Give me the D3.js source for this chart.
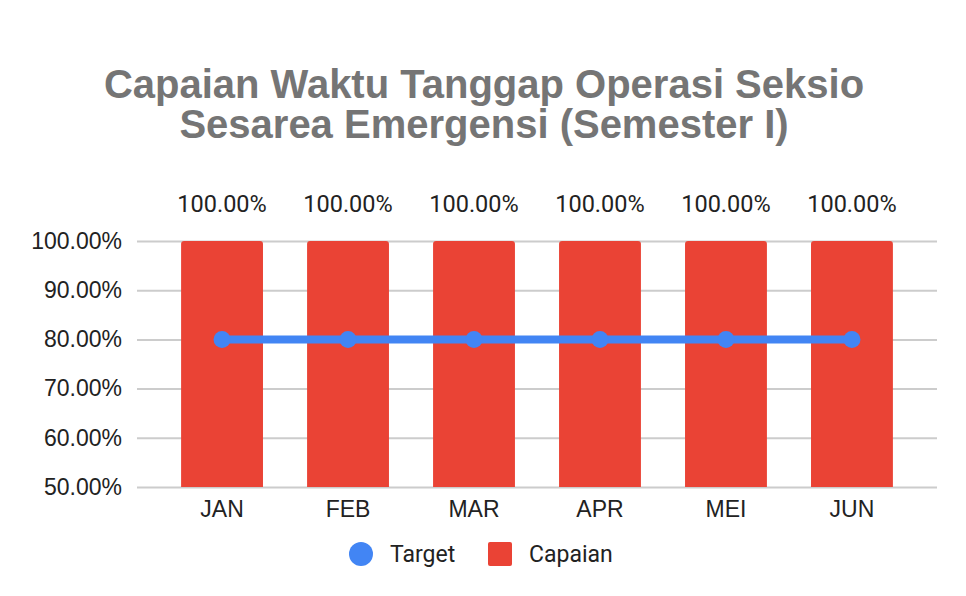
<!DOCTYPE html>
<html lang="en">
<head>
<meta charset="utf-8">
<title>Capaian Waktu Tanggap</title>
<script src="https://cdn.jsdelivr.net/npm/d3@7"></script>
<style>
  body { margin: 0; background: #fff; }
  svg { display: block; }
</style>
</head>
<body>
<div id="chart"></div>
<script>
// data
var months = ["JAN", "FEB", "MAR", "APR", "MEI", "JUN"]
var capaian = [1.0, 1.0, 1.0, 1.0, 1.0, 1.0]
var target = [0.8, 0.8, 0.8, 0.8, 0.8, 0.8]
var yTicks = [0.5, 0.6, 0.7, 0.8, 0.9, 1.0]
var titleLines = ["Capaian Waktu Tanggap Operasi Seksio", "Sesarea Emergensi (Semester I)"]

var w = 966, h = 596
// plot area (note: "top" is a reserved global in browsers)
var plotL = 137, plotR = 937, plotT = 241, plotB = 487

var svg = d3.select("#chart").append("svg")
  .attr("width", w)
  .attr("height", h)

var x = d3.scaleBand()
  .domain(months)
  .range([plotL, plotR])
  .paddingInner(0.35)
  .paddingOuter(0.35)

var y = d3.scaleLinear()
  .domain([0.5, 1.0])
  .range([plotB, plotT])

var pct = d3.format(".2%")

// title
svg.append("g").selectAll("text")
  .data(titleLines)
  .enter().append("text")
  .attr("x", 484)
  .attr("y", function(d, i) { return 98 + i * 40 })
  .attr("text-anchor", "middle")
  .attr("font-family", "'Liberation Sans', Arial, sans-serif")
  .attr("font-weight", "bold")
  .attr("font-size", 40)
  .attr("fill", "#757575")
  .text(function(d) { return d })

// gridlines + y labels
var yAxis = d3.axisLeft(y)
  .tickValues(yTicks)
  .tickSize(-(plotR - plotL))
  .tickPadding(15)
  .tickFormat(pct)

var gy = svg.append("g")
  .attr("transform", "translate(" + plotL + ",0)")
  .call(yAxis)
gy.select(".domain").remove()
gy.selectAll("line").attr("stroke", "#cccccc").attr("stroke-width", 2)
gy.selectAll("text")
  .attr("font-family", "'Liberation Sans', Arial, sans-serif")
  .attr("font-size", 23)
  .attr("fill", "#222")

// x labels
var xAxis = d3.axisBottom(x).tickSize(0).tickPadding(14)
var gx = svg.append("g")
  .attr("transform", "translate(0," + plotB + ")")
  .call(xAxis)
gx.select(".domain").remove()
gx.selectAll("text")
  .attr("font-family", "'Liberation Sans', Arial, sans-serif")
  .attr("font-size", 23)
  .attr("fill", "#222")

// bars with slightly rounded tops
function barPath(x0, y0, bw, y1, r) {
  return "M" + x0 + "," + y1 +
    "V" + (y0 + r) +
    "Q" + x0 + "," + y0 + " " + (x0 + r) + "," + y0 +
    "H" + (x0 + bw - r) +
    "Q" + (x0 + bw) + "," + y0 + " " + (x0 + bw) + "," + (y0 + r) +
    "V" + y1 + "Z"
}

svg.append("g").selectAll("path")
  .data(capaian)
  .enter().append("path")
  .attr("d", function(d, i) {
    return barPath(x(months[i]), y(d), x.bandwidth(), y(0.5), 3)
  })
  .attr("fill", "#ea4335")

// data labels
svg.append("g").selectAll("text")
  .data(capaian)
  .enter().append("text")
  .attr("x", function(d, i) { return x(months[i]) + x.bandwidth() / 2 })
  .attr("y", function(d) { return y(d) - 29 })
  .attr("text-anchor", "middle")
  .attr("font-family", "Roboto, sans-serif")
  .attr("font-size", 23.5)
  .attr("fill", "#222")
  .text(function(d) { return pct(d) })

// target line
var line = d3.line()
  .x(function(d, i) { return x(months[i]) + x.bandwidth() / 2 })
  .y(function(d) { return y(d) })

svg.append("path")
  .datum(target)
  .attr("d", line)
  .attr("fill", "none")
  .attr("stroke", "#4285f4")
  .attr("stroke-width", 8)

svg.append("g").selectAll("circle")
  .data(target)
  .enter().append("circle")
  .attr("cx", function(d, i) { return x(months[i]) + x.bandwidth() / 2 })
  .attr("cy", function(d) { return y(d) })
  .attr("r", 8.5)
  .attr("fill", "#4285f4")

// legend
var legend = svg.append("g")
legend.append("circle")
  .attr("cx", 361).attr("cy", 554).attr("r", 12)
  .attr("fill", "#4285f4")
legend.append("text")
  .attr("x", 390).attr("y", 562)
  .attr("font-family", "Roboto, sans-serif")
  .attr("font-size", 23)
  .attr("fill", "#222")
  .text("Target")
legend.append("rect")
  .attr("x", 488).attr("y", 542).attr("width", 24).attr("height", 24).attr("rx", 2)
  .attr("fill", "#ea4335")
legend.append("text")
  .attr("x", 529).attr("y", 562)
  .attr("font-family", "Roboto, sans-serif")
  .attr("font-size", 23)
  .attr("fill", "#222")
  .text("Capaian")
</script>
</body>
</html>
